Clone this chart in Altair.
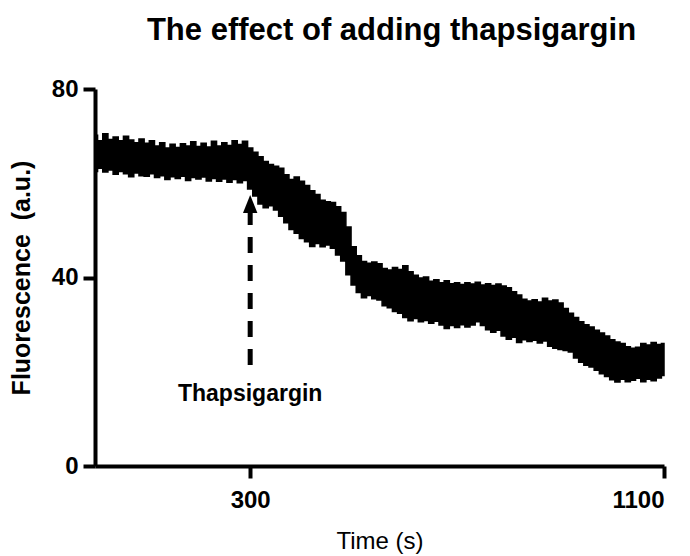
import altair as alt
import pandas as pd

# Sampling grid of the trace (seconds)
time_s = list(range(0, 1101, 10))

# Upper envelope of the noisy fluorescence trace (a.u.)
upper = [70.2, 69.0, 70.5, 69.3, 69.8, 69.0, 70.0, 69.2, 68.6, 69.4,
         68.5, 69.0, 67.9, 68.6, 67.5, 68.3, 67.6, 68.4, 67.9, 68.8,
         67.8, 68.5, 67.7, 68.9, 67.9, 68.6, 68.0, 69.0, 68.2, 68.9,
         67.5, 66.6, 65.6, 64.6, 64.0, 63.6, 63.2, 61.8, 60.8, 61.3,
         60.4, 59.5, 58.4, 57.6, 56.4, 56.1, 55.9, 55.0, 53.8, 50.7,
         46.5, 44.6, 43.4, 43.0, 43.3, 42.9, 41.9, 41.6, 42.1, 41.7,
         42.5, 41.2, 40.5, 39.9, 40.1, 39.2, 39.5, 38.9, 39.3, 38.7,
         38.9, 38.5, 38.9, 38.6, 39.0, 38.4, 38.7, 38.3, 38.6, 38.2,
         37.8, 37.0, 36.3, 35.4, 35.0, 35.3, 34.8, 35.6, 35.0, 35.2,
         34.6, 33.4, 32.4, 31.5, 30.6, 30.0, 29.5, 28.8, 28.2, 27.6,
         26.8, 26.3, 26.0, 25.3, 25.0, 25.2, 26.0, 25.7, 26.2, 25.8,
         26.0]

# Lower envelope of the noisy fluorescence trace (a.u.)
lower = [62.5, 63.2, 62.4, 62.8, 61.9, 62.5, 62.0, 61.4, 62.2, 61.6,
         61.5, 62.0, 61.2, 61.6, 60.8, 61.4, 61.0, 61.5, 60.6, 61.2,
         60.9, 61.3, 60.5, 61.0, 60.4, 60.9, 60.2, 60.8, 60.1, 60.6,
         58.8, 57.3, 55.6, 54.8, 55.2, 54.3, 53.0, 51.6, 50.2, 49.4,
         48.3, 47.6, 46.6, 47.2, 46.5, 46.9, 46.2, 44.8, 43.5, 40.6,
         38.4, 36.8, 35.7, 36.2, 35.5, 35.2, 34.0, 33.6, 32.8, 32.4,
         31.5, 30.8, 31.3, 30.6, 30.9, 30.3, 30.7, 29.9, 29.2, 29.8,
         29.4, 30.0, 29.5, 29.9, 30.6, 29.8, 28.9, 28.4, 28.8, 27.6,
         26.9, 27.3, 26.2, 26.8, 26.4, 26.7, 26.1, 26.5, 25.4, 25.0,
         24.7, 24.5, 24.2, 22.9, 22.0, 21.4, 21.0, 20.3, 19.6, 19.0,
         18.3, 17.8, 18.4, 17.9, 18.2, 18.6, 17.9, 18.4, 18.1, 18.7,
         19.2]

x_ticks = [300, 1100]
y_ticks = [0, 40, 80]

# Annotation
arrow_time = [300]
arrow_top = [53.7]
arrow_bottom = [21.0]
arrow_tip = [55.6]
label_y = [13.8]
label_text = ["Thapsigargin"]

FONT = "Liberation Sans"

df = pd.DataFrame({"t": time_s, "hi": upper, "lo": lower})
ann = pd.DataFrame({"t": arrow_time, "top": arrow_top, "bottom": arrow_bottom,
                    "tip": arrow_tip, "ly": label_y, "txt": label_text})

x_scale = alt.Scale(domain=[0, 1100], nice=False, zero=False)
y_scale = alt.Scale(domain=[0, 80], nice=False, zero=False)

axis_common = dict(
    grid=False, domainColor="black", domainWidth=4, tickColor="black",
    tickWidth=4, tickSize=12, labelFont=FONT, labelFontWeight="bold",
    labelFontSize=24, labelColor="black", titleColor="black", titleFont=FONT,
    format="d",
)

band = alt.Chart(df).mark_area(
    color="black", interpolate="step", stroke="black", strokeWidth=1.5
).encode(
    x=alt.X("t:Q", scale=x_scale,
            axis=alt.Axis(values=x_ticks, title="Time (s)", titleFontSize=24,
                          titleFontWeight="normal", labelPadding=10,
                          titlePadding=17, **axis_common)),
    y=alt.Y("hi:Q", scale=y_scale,
            axis=alt.Axis(values=y_ticks,
                          title="Fluorescence\u00a0\u00a0(a.u.)",
                          titleFontSize=25, titleFontWeight="bold",
                          labelPadding=5, titlePadding=17, **axis_common)),
    y2="lo:Q",
)

shaft = alt.Chart(ann).mark_rule(
    color="black", strokeWidth=5, strokeDash=[16, 12], strokeDashOffset=4,
    strokeCap="butt"
).encode(x="t:Q", y="top:Q", y2="bottom:Q")

head = alt.Chart(ann).mark_point(
    shape="M0,-1L-0.8,1L0.8,1Z", filled=True, color="black", opacity=1,
    size=324
).encode(x="t:Q", y="tip:Q")

label = alt.Chart(ann).mark_text(
    font=FONT, fontSize=23, fontWeight="bold", color="black",
    align="center", baseline="alphabetic"
).encode(x="t:Q", y="ly:Q", text="txt:N")

chart = alt.layer(band, shaft, head, label).properties(
    width=569, height=377,
    title=alt.TitleParams("The effect of adding thapsigargin", font=FONT,
                          fontSize=31, fontWeight="bold", color="black",
                          anchor="middle", baseline="alphabetic", offset=6,
                          dx=12),
    autosize=alt.AutoSizeParams(type="none"),
    padding={"left": 87, "top": 81, "right": 18, "bottom": 90},
).configure_view(stroke=None)

chart.save("out.html", embed_options={"renderer": "svg", "actions": False})
